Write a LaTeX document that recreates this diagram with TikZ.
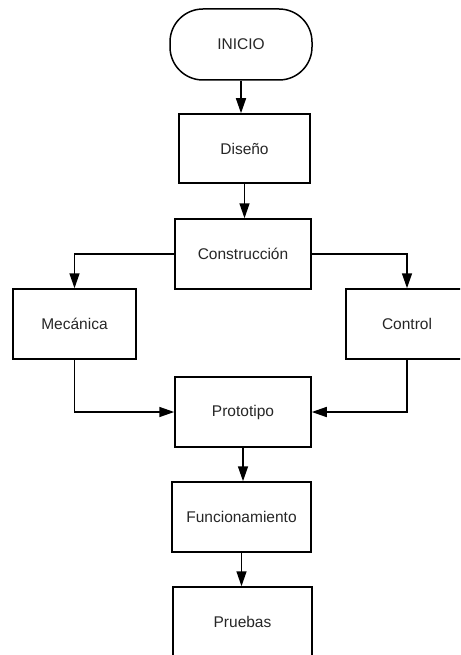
\documentclass[tikz,border=0pt]{standalone}
\usepackage{fontspec}
\setmainfont{Liberation Sans}
\usetikzlibrary{arrows.meta}
\begin{document}
\begin{tikzpicture}[x=1pt,y=-1pt,
  every node/.style={font=\fontsize{15.5}{18}\selectfont, text=black!85},
  stepbox/.style={draw=black, line width=1.5pt, minimum width=136pt, minimum height=70pt, inner sep=0pt},
  terminal/.style={stepbox, minimum width=142pt, minimum height=71pt, rounded corners=33pt},
  flow/.style={line width=1.5pt, -{Triangle[length=15pt,width=10pt]}}]
  \useasboundingbox (0,0) rectangle (460,655);
  \clip (0,0) rectangle (460,655);
  % main column
  \node[terminal] (inicio) at (241,44.5) {INICIO};
  \node[stepbox, minimum width=131pt, minimum height=69pt] (diseno) at (244.5,148.5) {Diseño};
  \node[stepbox] (constr) at (243,254) {Construcción};
  \node[stepbox, minimum width=123pt] (mec) at (74.5,324) {Mecánica};
  \node[stepbox, minimum width=122pt] (ctrl) at (407,324) {Control};
  \node[stepbox] (proto) at (243,412) {Prototipo};
  \node[stepbox, minimum width=139pt] (func) at (241.5,517) {Funcionamiento};
  \node[stepbox, minimum width=139pt] (prueb) at (242.5,622) {Pruebas};
  % connectors
  \draw[flow] (inicio.south) -- (inicio.south |- diseno.north);
  \draw[flow] (diseno.south) -- (diseno.south |- constr.north);
  \draw[flow] (constr.west) -| (mec.north);
  \draw[flow] (constr.east) -| (ctrl.north);
  \draw[flow] (mec.south) |- (proto.west);
  \draw[flow] (ctrl.south) |- (proto.east);
  \draw[flow] (proto.south) -- (proto.south |- func.north);
  \draw[flow] (func.south) -- (func.south |- prueb.north);
\end{tikzpicture}
\end{document}
